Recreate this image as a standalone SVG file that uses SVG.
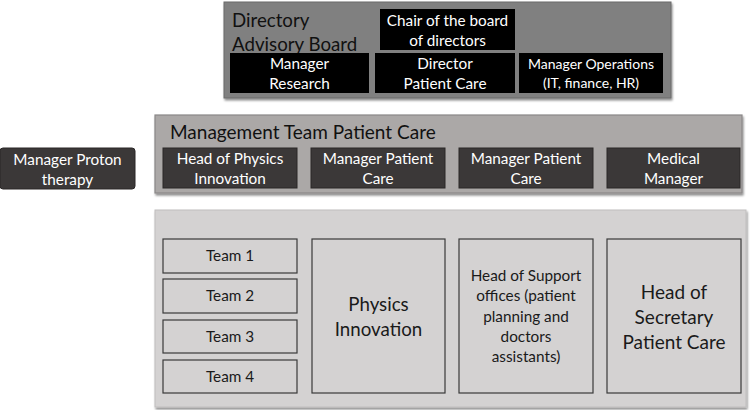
<svg xmlns="http://www.w3.org/2000/svg" width="750" height="410" viewBox="0 0 750 410">
<style>
text{font-family:Lato,"Open Sans","Liberation Sans",sans-serif;text-anchor:middle}
.w{fill:#ffffff;font-size:15.3px}
.k{fill:#1a1a1a;font-size:15.3px}
.blk{fill:#000000}
.dk{fill:#3b3838;stroke:#2a2727;stroke-width:1}
.lt{fill:#d4d2d2;stroke:#3a3a3a;stroke-width:1.2}
.title{text-anchor:start;fill:#111;font-size:18.7px}
</style>
<defs>
<filter id="sh" x="-5%" y="-5%" width="110%" height="115%">
<feDropShadow dx="1" dy="2" stdDeviation="1.2" flood-color="#000" flood-opacity="0.45"/>
</filter>
</defs>
<g id="advisory-board">
<rect x="224" y="2" width="447" height="96" fill="#808080" stroke="#6a6a6a" stroke-width="1" filter="url(#sh)"/>
<text class="title" x="232" y="27">Directory</text>
<text class="title" x="232" y="51">Advisory Board</text>
</g>
<g id="chair">
<rect class="blk" x="380" y="9" width="135" height="41"/>
<text class="w" x="447.5" y="26">Chair of the board</text>
<text class="w" x="447.5" y="46">of directors</text>
</g>
<g id="manager-research">
<rect class="blk" x="230" y="53" width="139" height="40"/>
<text class="w" x="299.5" y="69">Manager</text>
<text class="w" x="299.5" y="89">Research</text>
</g>
<g id="director-patient-care">
<rect class="blk" x="375" y="53" width="140" height="40"/>
<text class="w" x="445" y="69">Director</text>
<text class="w" x="445" y="89">Patient Care</text>
</g>
<g id="manager-operations">
<rect class="blk" x="519" y="53" width="144" height="40"/>
<text class="w" x="591" y="69" style="font-size:14px">Manager Operations</text>
<text class="w" x="591" y="88" style="font-size:14px">(IT, finance, HR)</text>
</g>
<g id="manager-proton">
<rect class="dk" x="0" y="148" width="135" height="41" rx="3"/>
<text class="w" x="67.5" y="165">Manager Proton</text>
<text class="w" x="67.5" y="185">therapy</text>
</g>
<g id="management-team">
<rect x="155" y="115" width="587" height="78" fill="#aba8a7" stroke="#8a8888" stroke-width="1.2" filter="url(#sh)"/>
<text class="title" x="170" y="139" style="font-size:19px">Management Team Patient Care</text>
</g>
<g id="head-physics">
<rect class="dk" x="163" y="148" width="134" height="40"/>
<text class="w" x="230" y="164">Head of Physics</text>
<text class="w" x="230" y="184">Innovation</text>
</g>
<g id="manager-patient-care-1">
<rect class="dk" x="311" y="148" width="134" height="40"/>
<text class="w" x="378" y="164">Manager Patient</text>
<text class="w" x="378" y="184">Care</text>
</g>
<g id="manager-patient-care-2">
<rect class="dk" x="459" y="148" width="134" height="40"/>
<text class="w" x="526" y="164">Manager Patient</text>
<text class="w" x="526" y="184">Care</text>
</g>
<g id="medical-manager">
<rect class="dk" x="607" y="148" width="133" height="40"/>
<text class="w" x="673.5" y="164">Medical</text>
<text class="w" x="673.5" y="184">Manager</text>
</g>
<g id="departments">
<rect x="155" y="210" width="591" height="197" fill="#d4d2d2" stroke="#c0bebe" stroke-width="1" filter="url(#sh)"/>
</g>
<g id="team1"><rect class="lt" x="163" y="239" width="134" height="34"/><text class="k" x="230" y="261">Team 1</text></g>
<g id="team2"><rect class="lt" x="163" y="279" width="134" height="34"/><text class="k" x="230" y="301">Team 2</text></g>
<g id="team3"><rect class="lt" x="163" y="320" width="134" height="33"/><text class="k" x="230" y="342">Team 3</text></g>
<g id="team4"><rect class="lt" x="163" y="360" width="134" height="33"/><text class="k" x="230" y="382">Team 4</text></g>
<g id="physics-innovation">
<rect class="lt" x="312" y="239" width="133" height="154"/>
<text class="k" x="378.5" y="311" style="font-size:18.7px">Physics</text>
<text class="k" x="378.5" y="336" style="font-size:18.7px">Innovation</text>
</g>
<g id="support-offices">
<rect class="lt" x="459" y="239" width="134" height="154"/>
<text class="k" x="526" y="281">Head of Support</text>
<text class="k" x="526" y="301">offices (patient</text>
<text class="k" x="526" y="322">planning and</text>
<text class="k" x="526" y="342">doctors</text>
<text class="k" x="526" y="362">assistants)</text>
</g>
<g id="secretary">
<rect class="lt" x="607" y="239" width="134" height="154"/>
<text class="k" x="674" y="299" style="font-size:19px">Head of</text>
<text class="k" x="674" y="324" style="font-size:19px">Secretary</text>
<text class="k" x="674" y="349" style="font-size:19px">Patient Care</text>
</g>
<g id="connectors"></g>
</svg>
